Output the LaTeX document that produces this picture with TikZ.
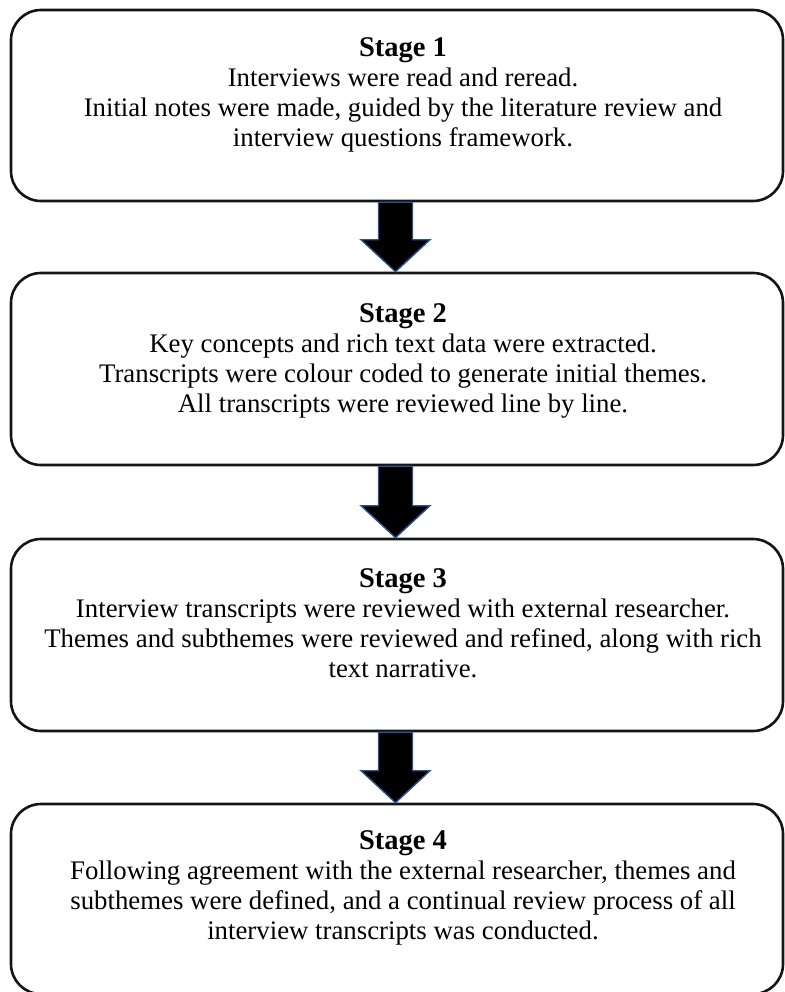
\documentclass[tikz,border=0pt]{standalone}
\usepackage{fontspec}
\setmainfont{Liberation Serif}
\usetikzlibrary{calc}
\definecolor{arrowedge}{RGB}{47,82,143}
\definecolor{boxedge}{RGB}{20,20,20}
\tikzset{
  stagebox/.style={draw=boxedge, line width=2.6pt, rounded corners=30pt,
    minimum width=772pt, inner sep=0pt},
  stagetext/.style={align=center, inner sep=0pt, anchor=base,
    font=\fontsize{26.8}{30}\selectfont},
  blockarr/.style={fill=black, draw=arrowedge, line width=1.4pt, line join=miter}
}
\newcommand{\stagetitle}[1]{{\bfseries\fontsize{28.5}{30}\selectfont #1}}
\begin{document}
\begin{tikzpicture}[x=1pt, y=-1pt]
\useasboundingbox (0,0) rectangle (784,992);
% boxes
\node[stagebox, minimum height=191pt] (b1) at (397,105.5) {};
\node[stagebox, minimum height=192pt] (b2) at (397,369) {};
\node[stagebox, minimum height=192pt] (b3) at (397,635) {};
\node[stagebox, minimum height=190pt] (b4) at (397,899) {};
% texts (anchor = baseline of the last line)
\node[stagetext] (t1) at (403,147) {\stagetitle{Stage 1}\\
Interviews were read and reread.\\
Initial notes were made, guided by the literature review and\\
interview questions framework.};
\node[stagetext] (t2) at (403,412) {\stagetitle{Stage 2}\\
Key concepts and rich text data were extracted.\\
Transcripts were colour coded to generate initial themes.\\
All transcripts were reviewed line by line.};
\node[stagetext] (t3) at (403,677) {\stagetitle{Stage 3}\\
Interview transcripts were reviewed with external researcher.\\
Themes and subthemes were reviewed and refined, along with rich\\
text narrative.};
\node[stagetext] (t4) at (403,939) {\stagetitle{Stage 4}\\
Following agreement with the external researcher, themes and\\
subthemes were defined, and a continual review process of all\\
interview transcripts was conducted.};
% arrows
\foreach \u/\v in {b1/b2, b2/b3, b3/b4}{
  \coordinate (s\u) at ($(\u.south)+(-1.5,0)$);
  \coordinate (e\u) at ($(\v.north)+(-1.5,0)$);
  \draw[blockarr] ($(s\u)+(-17,0)$) -- ($(e\u)+(-17,-32)$) -- ($(e\u)+(-34.5,-32)$)
    -- (e\u) -- ($(e\u)+(34.5,-32)$) -- ($(e\u)+(17,-32)$) -- ($(s\u)+(17,0)$) -- cycle;
}
\end{tikzpicture}
\end{document}
